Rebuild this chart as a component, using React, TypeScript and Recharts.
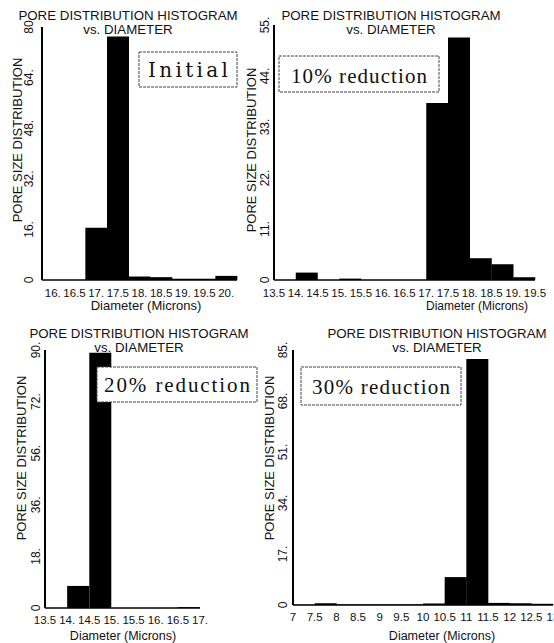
import React from 'react';
import { BarChart, Bar, XAxis, YAxis } from 'recharts';

// Initial
const initialBins = [16, 16.5, 17, 17.5, 18, 18.5, 19, 19.5, 20];
const initialValues = [0, 0, 16.5, 77, 1.1, 0.9, 0.4, 0.4, 1.3];
const initialXTicks = [16, 16.5, 17, 17.5, 18, 18.5, 19, 19.5, 20];
const initialXLabels = ['16.', '16.5', '17.', '17.5', '18.', '18.5', '19.', '19.5', '20.'];
const initialYTicks = [0, 16, 32, 48, 64, 80];
const initialYLabels = ['0', '16.', '32.', '48.', '64.', '80'];

// 10% reduction
const r10Bins = [13.75, 14.25, 14.75, 15.25, 15.75, 16.25, 16.75, 17.25, 17.75, 18.25, 18.75, 19.25];
const r10Values = [0, 1.6, 0, 0.3, 0, 0, 0, 38.2, 52.3, 4.7, 3.4, 0.6];
const r10XTicks = [13.5, 14, 14.5, 15, 15.5, 16, 16.5, 17, 17.5, 18, 18.5, 19, 19.5];
const r10XLabels = ['13.5', '14.', '14.5', '15.', '15.5', '16.', '16.5', '17.', '17.5', '18.', '18.5', '19.', '19.5'];
const r10YTicks = [0, 11, 22, 33, 44, 55];
const r10YLabels = ['0', '11.', '22.', '33.', '44.', '55.'];

// 20% reduction
const r20Bins = [13.75, 14.25, 14.75, 15.25, 15.75, 16.25, 16.75];
const r20Values = [0, 7.7, 89, 0, 0, 0, 0.3];
const r20XTicks = [13.5, 14, 14.5, 15, 15.5, 16, 16.5, 17];
const r20XLabels = ['13.5', '14.', '14.5', '15.', '15.5', '16.', '16.5', '17.'];
const r20YTicks = [0, 18, 36, 54, 72, 90];
const r20YLabels = ['0', '18.', '36.', '56.', '72.', '90.'];

// 30% reduction
const r30Bins = [7.25, 7.75, 8.25, 8.75, 9.25, 9.75, 10.25, 10.75, 11.25, 11.75, 12.25, 12.75];
const r30Values = [0.1, 0.6, 0.2, 0.2, 0.2, 0.2, 0.5, 9.3, 82, 0.7, 0.6, 0.4];
const r30XTicks = [7, 7.5, 8, 8.5, 9, 9.5, 10, 10.5, 11, 11.5, 12, 12.5, 13];
const r30XLabels = ['7', '7.5', '8', '8.5', '9', '9.5', '10', '10.5', '11', '11.5', '12', '12.5', '13'];
const r30YTicks = [0, 17, 34, 51, 68, 85];
const r30YLabels = ['0', '17.', '34.', '51.', '68.', '85.'];

const SANS = '"Liberation Sans", Arial, sans-serif';
const SERIF = '"Liberation Serif", "Times New Roman", serif';

interface PanelProps {
  bins: number[];
  values: number[];
  xTicks: number[];
  xLabels: string[];
  xDomain: [number, number];
  yTicks: number[];
  yLabels: string[];
  left: number;
  top: number;
  width: number;
  height: number;
  marginTop: number;
  marginRight: number;
  yAxisWidth: number;
  xAxisHeight: number;
  xTickDy: number;
  yTickGap: number;
  titleX: number;
  titleY: number;
  yLabelX: number;
  yLabelY: number;
  xLabelX: number;
  xLabelY: number;
  xLabelSize: number;
  note: string;
  noteFont: string;
  noteSize: number;
  box: [number, number, number, number];
  noteY: number;
  noteLength: number;
}

const Panel = (p: PanelProps) => {
  const data = p.bins.map((d, i) => ({ d, v: p.values[i] }));

  const XTick = (props: any) => {
    const { x, y, payload } = props;
    const idx = p.xTicks.indexOf(payload.value);
    return (
      <text x={x} y={y + p.xTickDy} textAnchor="middle" fontSize={11.5} fontFamily={SANS} fill="#111">
        {p.xLabels[idx]}
      </text>
    );
  };

  const YTick = (props: any) => {
    const { x, y, payload } = props;
    const idx = p.yTicks.indexOf(payload.value);
    // x comes in 8px left of the axis line
    const tx = x + 8 - p.yTickGap;
    return (
      <text
        x={tx}
        y={y}
        transform={`rotate(-90, ${tx}, ${y})`}
        textAnchor="middle"
        dominantBaseline="central"
        fontSize={12}
        fontFamily={SANS}
        fill="#111"
      >
        {p.yLabels[idx]}
      </text>
    );
  };

  return (
    <div style={{ position: 'absolute', left: p.left, top: p.top, width: p.width, height: p.height }}>
      <BarChart
        width={p.width}
        height={p.height}
        data={data}
        margin={{ top: p.marginTop, right: p.marginRight, bottom: 0, left: 0 }}
        barCategoryGap={0}
        barGap={0}
      >
        <XAxis
          type="number"
          dataKey="d"
          domain={p.xDomain}
          ticks={p.xTicks}
          interval={0}
          height={p.xAxisHeight}
          tickLine={false}
          axisLine={{ stroke: '#000', strokeWidth: 1.5 }}
          tick={XTick}
        />
        <YAxis
          type="number"
          domain={[0, p.yTicks[p.yTicks.length - 1]]}
          ticks={p.yTicks}
          interval={0}
          width={p.yAxisWidth}
          tickLine={false}
          axisLine={{ stroke: '#000', strokeWidth: 2 }}
          tick={YTick}
        />
        <Bar dataKey="v" fill="#000" isAnimationActive={false} />
      </BarChart>
      {/* titles, axis names and the note box sit on top of the bars */}
      <svg
        width={p.width}
        height={p.height}
        style={{ position: 'absolute', left: 0, top: 0, pointerEvents: 'none', overflow: 'visible' }}
      >
        <text x={p.titleX} y={p.titleY} textAnchor="middle" fontSize={13.3} fontFamily={SANS} fill="#111">
          PORE DISTRIBUTION HISTOGRAM
        </text>
        <text x={p.titleX} y={p.titleY + 14} textAnchor="middle" fontSize={13.3} fontFamily={SANS} fill="#111">
          vs. DIAMETER
        </text>
        <text
          x={p.yLabelX}
          y={p.yLabelY}
          transform={`rotate(-90, ${p.yLabelX}, ${p.yLabelY})`}
          textAnchor="middle"
          dominantBaseline="central"
          fontSize={13}
          fontFamily={SANS}
          fill="#111"
        >
          PORE SIZE DISTRIBUTION
        </text>
        <text x={p.xLabelX} y={p.xLabelY} textAnchor="middle" fontSize={p.xLabelSize} fontFamily={SANS} fill="#111">
          Diameter (Microns)
        </text>
        <rect
          x={p.box[0]}
          y={p.box[1]}
          width={p.box[2]}
          height={p.box[3]}
          fill="#fff"
          stroke="#444"
          strokeWidth={1}
          strokeDasharray="3 1"
        />
        <text
          x={p.box[0] + p.box[2] / 2}
          y={p.noteY}
          textAnchor="middle"
          fontSize={p.noteSize}
          fontFamily={p.noteFont}
          fill="#111"
          textLength={p.noteLength}
          lengthAdjust="spacing"
        >
          {p.note}
        </text>
      </svg>
    </div>
  );
};

const App = () => {
  return (
    <div style={{ position: 'absolute', left: 0, top: 0, width: 554, height: 643, background: '#fff', overflow: 'hidden' }}>
      <Panel
        bins={initialBins}
        values={initialValues}
        xTicks={initialXTicks}
        xLabels={initialXLabels}
        xDomain={[15.75, 20.25]}
        yTicks={initialYTicks}
        yLabels={initialYLabels}
        left={0}
        top={0}
        width={277}
        height={318}
        marginTop={27}
        marginRight={40}
        yAxisWidth={42}
        xAxisHeight={38}
        xTickDy={9}
        yTickGap={13}
        titleX={128}
        titleY={20}
        yLabelX={17}
        yLabelY={140}
        xLabelX={146}
        xLabelY={310}
        xLabelSize={13}
        note="Initial"
        noteFont='"DejaVu Serif", serif'
        noteSize={20}
        box={[139, 52, 98, 35]}
        noteY={77}
        noteLength={80}
      />
      <Panel
        bins={r10Bins}
        values={r10Values}
        xTicks={r10XTicks}
        xLabels={r10XLabels}
        xDomain={[13.5, 19.5]}
        yTicks={r10YTicks}
        yLabels={r10YLabels}
        left={240}
        top={0}
        width={314}
        height={318}
        marginTop={25}
        marginRight={19}
        yAxisWidth={34}
        xAxisHeight={38}
        xTickDy={9}
        yTickGap={9}
        titleX={151}
        titleY={20}
        yLabelX={11}
        yLabelY={150}
        xLabelX={237}
        xLabelY={310}
        xLabelSize={12}
        note="10% reduction"
        noteFont={SERIF}
        noteSize={21}
        box={[39, 56, 160, 36]}
        noteY={83}
        noteLength={136}
      />
      <Panel
        bins={r20Bins}
        values={r20Values}
        xTicks={r20XTicks}
        xLabels={r20XLabels}
        xDomain={[13.5, 17]}
        yTicks={r20YTicks}
        yLabels={r20YLabels}
        left={0}
        top={310}
        width={277}
        height={333}
        marginTop={40}
        marginRight={77}
        yAxisWidth={45}
        xAxisHeight={35}
        xTickDy={8}
        yTickGap={9}
        titleX={139}
        titleY={28}
        yLabelX={21}
        yLabelY={148}
        xLabelX={123}
        xLabelY={330}
        xLabelSize={12.5}
        note="20% reduction"
        noteFont={SERIF}
        noteSize={21}
        box={[97, 57, 160, 35]}
        noteY={82}
        noteLength={146}
      />
      <Panel
        bins={r30Bins}
        values={r30Values}
        xTicks={r30XTicks}
        xLabels={r30XLabels}
        xDomain={[7, 13]}
        yTicks={r30YTicks}
        yLabels={r30YLabels}
        left={260}
        top={310}
        width={294}
        height={333}
        marginTop={40}
        marginRight={1}
        yAxisWidth={33}
        xAxisHeight={38}
        xTickDy={8}
        yTickGap={10}
        titleX={177}
        titleY={28}
        yLabelX={9}
        yLabelY={148}
        xLabelX={182}
        xLabelY={330}
        xLabelSize={12.5}
        note="30% reduction"
        noteFont={SERIF}
        noteSize={21}
        box={[41, 57, 160, 38]}
        noteY={84}
        noteLength={138}
      />
    </div>
  );
};

export default App;
